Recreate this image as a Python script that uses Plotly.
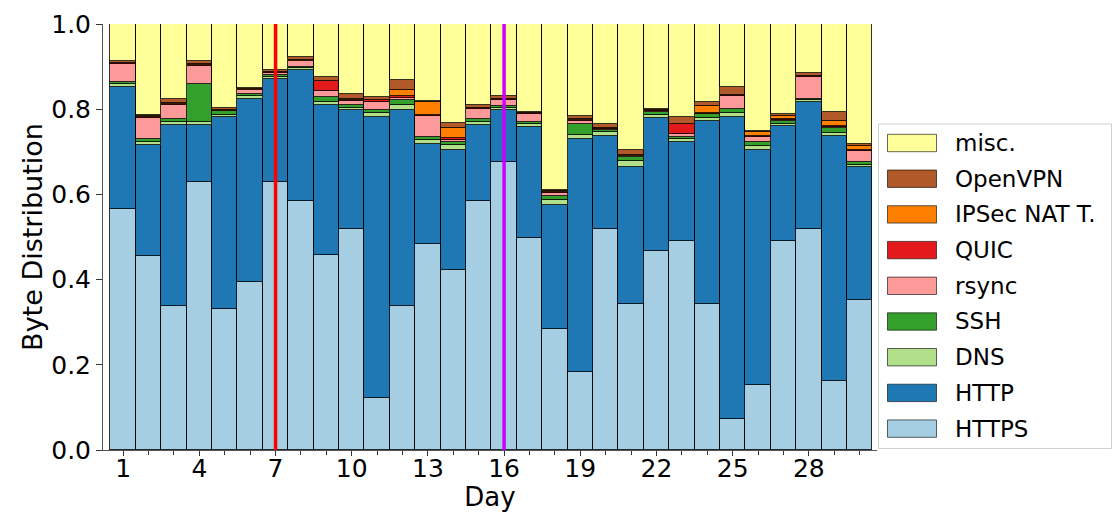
import plotly.graph_objects as go

# Daily byte share per protocol (stacked bottom-to-top in this order)
days = list(range(1, 31))

https = [0.566, 0.455, 0.338, 0.629, 0.332, 0.394, 0.629, 0.584, 0.457, 0.519,
         0.121, 0.338, 0.483, 0.423, 0.584, 0.675, 0.498, 0.284, 0.183, 0.519,
         0.343, 0.467, 0.490, 0.342, 0.072, 0.153, 0.490, 0.519, 0.161, 0.353]
http = [0.286, 0.260, 0.424, 0.135, 0.449, 0.431, 0.242, 0.307, 0.354, 0.280,
        0.661, 0.459, 0.236, 0.282, 0.178, 0.124, 0.260, 0.290, 0.546, 0.217,
        0.321, 0.313, 0.233, 0.430, 0.710, 0.552, 0.270, 0.298, 0.575, 0.311]
dns = [0.006, 0.008, 0.009, 0.007, 0.006, 0.005, 0.005, 0.005, 0.006, 0.005,
       0.008, 0.012, 0.008, 0.012, 0.008, 0.004, 0.008, 0.012, 0.011, 0.010,
       0.014, 0.007, 0.007, 0.008, 0.009, 0.009, 0.006, 0.005, 0.009, 0.005]
ssh = [0.007, 0.006, 0.006, 0.088, 0.008, 0.005, 0.004, 0.003, 0.012, 0.005,
       0.009, 0.013, 0.007, 0.005, 0.006, 0.004, 0.004, 0.010, 0.026, 0.005,
       0.009, 0.006, 0.004, 0.008, 0.010, 0.010, 0.006, 0.003, 0.011, 0.006]
rsync = [0.041, 0.051, 0.033, 0.043, 0.001, 0.009, 0.005, 0.013, 0.014, 0.011,
         0.019, 0.004, 0.051, 0.005, 0.025, 0.015, 0.018, 0.008, 0.006, 0.002,
         0.002, 0.002, 0.008, 0.001, 0.030, 0.010, 0.002, 0.051, 0.003, 0.027]
quic = [0.002, 0.002, 0.003, 0.002, 0.001, 0.002, 0.002, 0.002, 0.023, 0.002,
        0.003, 0.006, 0.002, 0.005, 0.002, 0.002, 0.002, 0.002, 0.003, 0.002,
        0.002, 0.003, 0.023, 0.002, 0.002, 0.002, 0.002, 0.002, 0.002, 0.002]
ipsec = [0.001, 0.001, 0.001, 0.001, 0.001, 0.001, 0.001, 0.001, 0.001, 0.001,
         0.001, 0.014, 0.031, 0.023, 0.001, 0.001, 0.001, 0.001, 0.001, 0.001,
         0.001, 0.001, 0.001, 0.017, 0.001, 0.010, 0.008, 0.001, 0.012, 0.009]
openvpn = [0.004, 0.004, 0.009, 0.007, 0.004, 0.003, 0.004, 0.007, 0.008, 0.013,
           0.007, 0.023, 0.002, 0.013, 0.005, 0.006, 0.003, 0.003, 0.008, 0.009,
           0.013, 0.002, 0.016, 0.008, 0.019, 0.004, 0.005, 0.007, 0.021, 0.006]
misc = [0.087, 0.213, 0.177, 0.088, 0.198, 0.150, 0.108, 0.078, 0.125, 0.164,
        0.171, 0.131, 0.180, 0.232, 0.191, 0.169, 0.206, 0.390, 0.216, 0.235,
        0.295, 0.199, 0.218, 0.184, 0.147, 0.250, 0.211, 0.114, 0.206, 0.281]

series_names = ["HTTPS", "HTTP", "DNS", "SSH", "rsync", "QUIC",
                "IPSec NAT T.", "OpenVPN", "misc."]
series_values = [https, http, dns, ssh, rsync, quic, ipsec, openvpn, misc]
series_colors = ["#a6cee3", "#1f78b4", "#b2df8a", "#33a02c", "#fb9a99",
                 "#e31a1c", "#ff7f00", "#b15928", "#ffff99"]

x_tickvals = [1, 4, 7, 10, 13, 16, 19, 22, 25, 28]
y_tickvals = [0.0, 0.2, 0.4, 0.6, 0.8, 1.0]

# Days marked with vertical reference lines
event_days = [7, 16]
event_colors = ["#ff0000", "#cc00ff"]

W, H = 1117, 512
ML, MR, MT, MB = 103, 240, 24, 62
PW, PH = W - ML - MR, H - MT - MB
FONT = "DejaVu Sans"


def px(xp):
    return (xp - ML) / PW


def py(yp):
    return (H - MB - yp) / PH


fig = go.Figure()
for name, vals, col in zip(series_names, series_values, series_colors):
    fig.add_trace(go.Bar(
        x=days, y=vals, name=name, width=1.0,
        marker=dict(color=col, line=dict(color="rgba(0,0,0,0.8)", width=1)),
        showlegend=False,
    ))

shapes = []
for d, c in zip(event_days, event_colors):
    shapes.append(dict(type="line", xref="x", yref="paper", x0=d, x1=d,
                       y0=0, y1=1, line=dict(color=c, width=3.5), layer="above"))

# Legend box drawn by hand (wide patches, reversed order)
shapes.append(dict(type="rect", xref="paper", yref="paper",
                   x0=px(878.5), x1=px(1111.5), y0=py(448.5), y1=py(124),
                   line=dict(color="#d0d0d0", width=1), fillcolor="white"))
annotations = []
step = 35.7
for i, (name, col) in enumerate(zip(series_names[::-1], series_colors[::-1])):
    top = 134.3 + i * step
    shapes.append(dict(type="rect", xref="paper", yref="paper",
                       x0=px(887.5), x1=px(936.5), y0=py(top + 17.4), y1=py(top),
                       line=dict(color="rgba(0,0,0,0.6)", width=1), fillcolor=col))
    annotations.append(dict(xref="paper", yref="paper", x=px(953), y=py(top + 8.7),
                            text=name, showarrow=False, xanchor="left",
                            yanchor="middle",
                            font=dict(family=FONT, size=23, color="black")))

fig.update_layout(
    width=W, height=H,
    margin=dict(l=ML, r=MR, t=MT, b=MB, pad=0, autoexpand=False),
    barmode="stack", bargap=0,
    plot_bgcolor="white", paper_bgcolor="white",
    font=dict(family=FONT, size=25, color="black"),
    shapes=shapes, annotations=annotations,
    xaxis=dict(
        range=[0.205, 30.685], tickmode="array", tickvals=x_tickvals,
        ticks="outside", ticklen=5, tickwidth=1, tickcolor="#333",
        showline=True, linecolor="#555", linewidth=1, mirror=False,
        showgrid=False, zeroline=False, automargin=False,
        ticklabelstandoff=-9,
        minor=dict(dtick=1, tick0=0, ticks="outside", ticklen=4,
                   tickcolor="#333", showgrid=False),
        title=dict(text="Day", font=dict(size=26), standoff=2),
        tickfont=dict(size=25),
    ),
    yaxis=dict(
        range=[0, 1], tickmode="array", tickvals=y_tickvals, tickformat=".1f",
        ticks="outside", ticklen=6, tickwidth=1, tickcolor="#333",
        showline=True, linecolor="#555", linewidth=1, mirror=False,
        showgrid=False, zeroline=False, automargin=False,
        title=dict(text="Byte Distribution", font=dict(size=27), standoff=0),
        tickfont=dict(size=25),
    ),
)

fig.write_html("out.html")
